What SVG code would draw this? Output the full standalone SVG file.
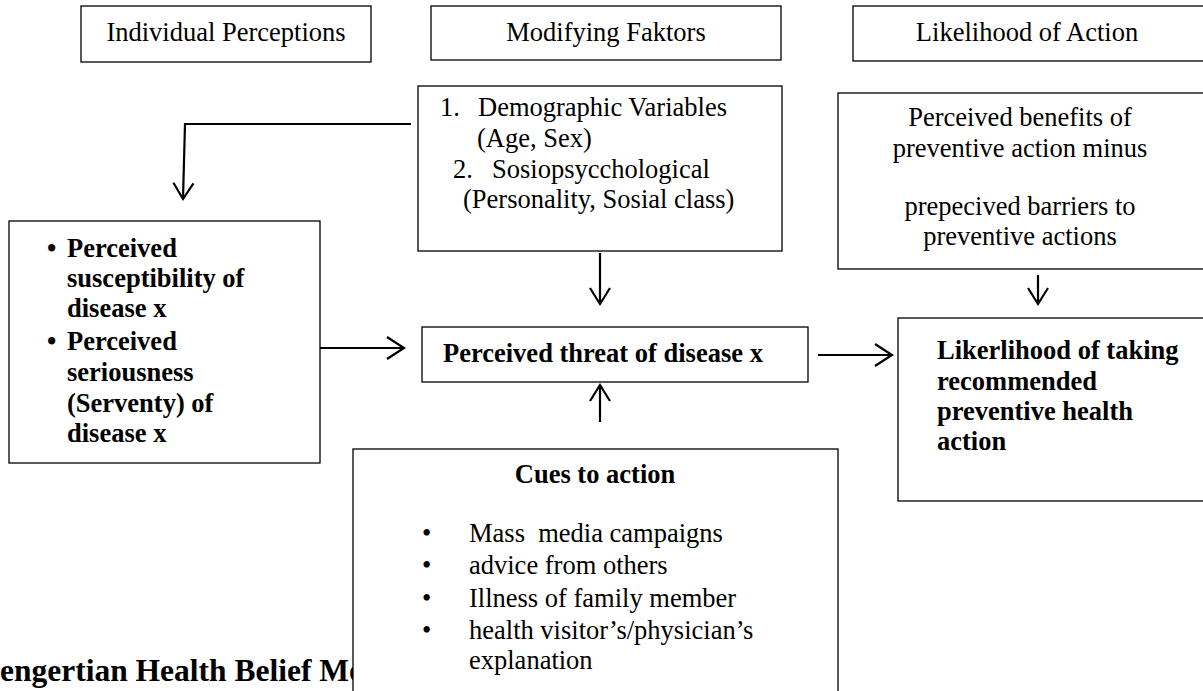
<svg xmlns="http://www.w3.org/2000/svg" width="1203" height="691" viewBox="0 0 1203 691">
<style>
.box{fill:#fff;stroke:#000;stroke-width:1.3}
.t{font-family:"Liberation Serif","Times New Roman",serif;font-size:26.5px;fill:#000}
.b{font-weight:bold}
.c{text-anchor:middle}
.con{fill:none;stroke:#000;stroke-width:2.2}
.head{fill:none;stroke:#000;stroke-width:2.2;stroke-linejoin:miter}
</style>
<defs>
<marker id="ah" markerUnits="userSpaceOnUse" markerWidth="24" markerHeight="28" viewBox="-20 -14 24 28" refX="0" refY="0" orient="auto">
<path class="head" d="M-17,-11 L0,0 L-17,11"/>
</marker>
<marker id="ahs" markerUnits="userSpaceOnUse" markerWidth="24" markerHeight="28" viewBox="-20 -14 24 28" refX="0" refY="0" orient="auto">
<path class="head" d="M-16,-10 L0,0 L-16,10"/>
</marker>
</defs>

<g id="title">
<text class="t b" x="0" y="681" style="font-size:31.5px">engertian Health Belief Mo</text>
</g>

<g id="hdr-individual">
<rect class="box" x="81" y="6" width="290" height="56"/>
<text class="t c" x="226" y="41">Individual Perceptions</text>
</g>
<g id="hdr-modifying">
<rect class="box" x="431" y="6" width="350" height="54"/>
<text class="t c" x="606" y="41">Modifying Faktors</text>
</g>
<g id="hdr-likelihood">
<rect class="box" x="853" y="6" width="352" height="55"/>
<text class="t c" x="1027" y="41">Likelihood of Action</text>
</g>

<g id="modifying">
<rect class="box" x="418" y="86" width="364" height="165"/>
<text class="t" x="440" y="116">1.</text>
<text class="t" x="478" y="116">Demographic Variables</text>
<text class="t" x="477" y="147">(Age, Sex)</text>
<text class="t" x="453" y="178">2.</text>
<text class="t" x="492" y="178">Sosiopsycchological</text>
<text class="t" x="463" y="208">(Personality, Sosial class)</text>
</g>

<g id="benefits">
<rect class="box" x="838" y="93" width="367" height="176"/>
<text class="t c" x="1020" y="126">Perceived benefits of</text>
<text class="t c" x="1020" y="157">preventive action minus</text>
<text class="t c" x="1020" y="215">prepecived barriers to</text>
<text class="t c" x="1020" y="245">preventive actions</text>
</g>

<g id="perceptions">
<rect class="box" x="9" y="221" width="311" height="242"/>
<text class="t b" x="47" y="257">•</text>
<text class="t b" x="67" y="257">Perceived</text>
<text class="t b" x="67" y="287">susceptibility of</text>
<text class="t b" x="67" y="317">disease x</text>
<text class="t b" x="47" y="350">•</text>
<text class="t b" x="67" y="350">Perceived</text>
<text class="t b" x="67" y="381">seriousness</text>
<text class="t b" x="67" y="412">(Serventy) of</text>
<text class="t b" x="67" y="442">disease x</text>
</g>

<g id="threat">
<rect class="box" x="422" y="327" width="386" height="55"/>
<text class="t b" x="443" y="362">Perceived threat of disease x</text>
</g>

<g id="likelihood">
<rect class="box" x="898" y="318" width="307" height="183"/>
<text class="t b" x="937" y="359">Likerlihood of taking</text>
<text class="t b" x="937" y="390">recommended</text>
<text class="t b" x="937" y="420">preventive health</text>
<text class="t b" x="937" y="450">action</text>
</g>

<g id="cues">
<rect class="box" x="353" y="449" width="485" height="260"/>
<text class="t b c" x="595" y="483">Cues to action</text>
<text class="t" x="422" y="542">•</text>
<text class="t" x="469" y="542" xml:space="preserve">Mass  media campaigns</text>
<text class="t" x="422" y="574">•</text>
<text class="t" x="469" y="574">advice from others</text>
<text class="t" x="422" y="607">•</text>
<text class="t" x="469" y="607">Illness of family member</text>
<text class="t" x="422" y="639">•</text>
<text class="t" x="469" y="639">health visitor’s/physician’s</text>
<text class="t" x="469" y="669">explanation</text>
</g>

<g id="connectors">
<path class="con" d="M411,124 L185,124 L183,199" marker-end="url(#ahs)"/>
<path class="con" d="M320,348 L404,348" marker-end="url(#ah)"/>
<path class="con" d="M600,253 L600,304" marker-end="url(#ahs)"/>
<path class="con" d="M600,422 L600,385" marker-end="url(#ahs)"/>
<path class="con" d="M818,355 L892,355" marker-end="url(#ah)"/>
<path class="con" d="M1038,275 L1038,304" marker-end="url(#ahs)"/>
</g>
</svg>
